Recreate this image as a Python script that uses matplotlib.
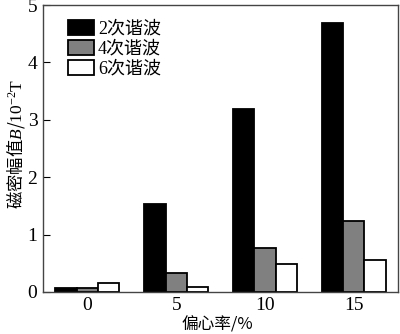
import numpy as np
import matplotlib
matplotlib.use('Agg')
import matplotlib.pyplot as plt

plt.rcParams['font.family'] = ['Liberation Serif', 'Noto Sans CJK SC']
plt.rcParams['mathtext.fontset'] = 'custom'
plt.rcParams['mathtext.rm'] = 'Liberation Serif'
plt.rcParams['mathtext.it'] = 'Liberation Serif:italic'

# data
eccentricity = ['0', '5', '10', '15']
harm2 = [0.07, 1.53, 3.19, 4.69]
harm4 = [0.07, 0.33, 0.77, 1.24]
harm6 = [0.15, 0.08, 0.49, 0.56]
series_names = ['2次谐波', '4次谐波', '6次谐波']

fig = plt.figure(figsize=(4.0, 3.34), dpi=100)
ax = fig.add_axes([0.1075, 0.126, 0.888, 0.859])

x = np.arange(len(eccentricity))
w = 0.24
ax.bar(x - w, harm2, w, color='black', edgecolor='black', linewidth=1.3, label=series_names[0])
ax.bar(x, harm4, w, color='#808080', edgecolor='black', linewidth=1.3, label=series_names[1])
ax.bar(x + w, harm6, w, color='white', edgecolor='black', linewidth=1.3, label=series_names[2])

ax.set_xlim(-0.5, 3.5)
ax.set_ylim(0, 5)
ax.set_xticks(x)
ax.set_xticklabels(eccentricity)
ax.set_yticks(range(6))
ax.tick_params(axis='x', length=0, labelsize=14, pad=4)
ax.tick_params(axis='y', direction='in', length=5, labelsize=14, pad=4)
for s in ax.spines.values():
    s.set_color('#444444')
    s.set_linewidth(1.0)

ax.set_xlabel('偏心率/%', family=['Noto Sans CJK SC'], fontsize=12)
ax.xaxis.set_label_coords(0.49, -0.085)
ax.set_ylabel('磁密幅值$B$/$\\mathrm{10^{-2}T}$', family=['Noto Sans CJK SC'], fontsize=12.5)
ax.yaxis.set_label_coords(-0.045, 0.515)

leg = ax.legend(loc='upper left', bbox_to_anchor=(0.04, 0.985), frameon=False,
                prop={'family': ['Liberation Serif', 'Noto Sans CJK SC'], 'size': 13},
                handlelength=1.45, handleheight=0.85, handletextpad=0.2, labelspacing=0.15,
                borderaxespad=0.2)

fig.savefig('out.png', dpi=100)
